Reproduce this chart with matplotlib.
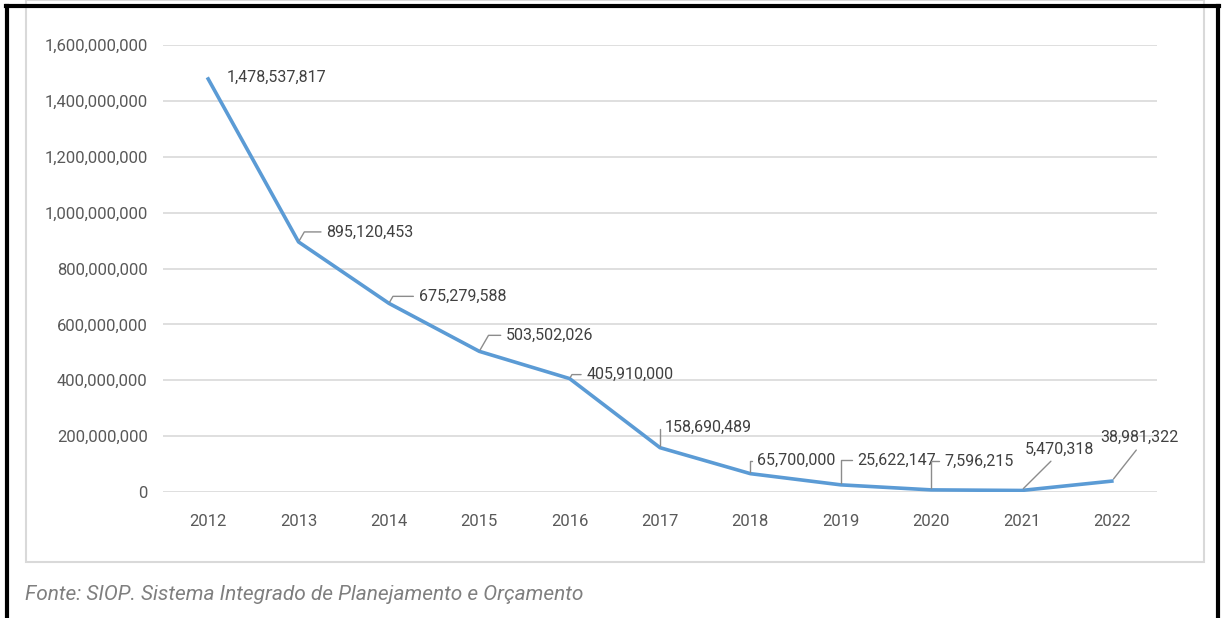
import matplotlib
matplotlib.use('Agg')
import matplotlib.pyplot as plt
from matplotlib.lines import Line2D
from matplotlib.patches import Rectangle

years = [2012, 2013, 2014, 2015, 2016, 2017, 2018, 2019, 2020, 2021, 2022]
values = [1478537817, 895120453, 675279588, 503502026, 405910000,
          158690489, 65700000, 25622147, 7596215, 5470318, 38981322]
y_ticks = [0, 200e6, 400e6, 600e6, 800e6, 1000e6, 1200e6, 1400e6, 1600e6]
y_ticklabels = ['0', '200,000,000', '400,000,000', '600,000,000', '800,000,000',
                '1,000,000,000', '1,200,000,000', '1,400,000,000', '1,600,000,000']
source = 'Fonte: SIOP. Sistema Integrado de Planejamento e Orçamento'

plt.rcParams['font.family'] = ['Roboto', 'DejaVu Sans']

W, H = 1222, 618
fig = plt.figure(figsize=(W / 100, H / 100), dpi=100, facecolor='white')

# outer frame and light chart box (figure pixel coords)
def fx(px): return px / W
def fy(py): return 1 - py / H

fig.add_artist(Rectangle((fx(26), fy(562)), fx(1204) - fx(26), fy(0) - fy(562),
                         transform=fig.transFigure, fill=False,
                         edgecolor='#d9d9d9', linewidth=1.5))
fig.add_artist(Line2D([fx(6), fx(1219)], [fy(6), fy(6)], transform=fig.transFigure,
                      color='black', linewidth=3))
fig.add_artist(Line2D([fx(7), fx(7)], [fy(6), 0], transform=fig.transFigure,
                      color='black', linewidth=3))
fig.add_artist(Line2D([fx(1218), fx(1218)], [fy(6), 0], transform=fig.transFigure,
                      color='black', linewidth=3))

ax = fig.add_axes([fx(163), fy(492), fx(1157) - fx(163), fy(45) - fy(492)])
ax.set_xlim(2011.5, 2022.5)
ax.set_ylim(0, 1.6e9)
ax.set_yticks(y_ticks)
ax.set_yticklabels(y_ticklabels)
ax.set_xticks(years)
ax.set_xticklabels([str(y) for y in years])
ax.grid(axis='y', color='#d9d9d9', linewidth=1.2)
ax.set_axisbelow(True)
for s in ax.spines.values():
    s.set_visible(False)
ax.tick_params(length=0, labelsize=12, colors='#595959')
ax.tick_params(axis='y', pad=11)
ax.tick_params(axis='x', pad=16)

ax.plot(years, values, color='#5b9bd5', linewidth=2.6, solid_joinstyle='round', zorder=3)

# label offsets in pixels (dx, dy) from point to text left-centre
offsets = [(19, 2), (28, 10), (30, 7), (27, 16), (17, 4), (5, 20),
           (7, 13), (17, 25), (13, 29), (3, 34), (-12, 36)]
for i, (x, v) in enumerate(zip(years, values)):
    dx, dy = offsets[i]
    label = f'{v:,}'
    if i == 0:
        ax.annotate(label, (x, v), xytext=(dx, dy), textcoords='offset pixels',
                    ha='left', va='center', fontsize=11.5, color='#404040')
    elif i >= 9:
        ax.annotate(label, (x, v), xytext=(dx, dy), textcoords='offset pixels',
                    ha='left', va='bottom', fontsize=11.5, color='#404040',
                    arrowprops=dict(arrowstyle='-', color='#8c8c8c', lw=1,
                                    shrinkA=2, shrinkB=2,
                                    relpos=(0.45, 0) if i == 9 else (0.5, -0.1)))
    else:
        ax.annotate(label, (x, v), xytext=(dx, dy), textcoords='offset pixels',
                    ha='left', va='center', fontsize=11.5, color='#404040',
                    arrowprops=dict(arrowstyle='-', color='#8c8c8c', lw=1,
                                    shrinkA=2, shrinkB=1,
                                    connectionstyle='angle,angleA=0,angleB=%d,rad=0'
                                    % (90 if i >= 5 else 60)))

fig.text(fx(25), fy(594), source, fontsize=15, style='italic', color='#7f7f7f',
         ha='left', va='center')

fig.savefig('out.png', dpi=100, facecolor='white')
